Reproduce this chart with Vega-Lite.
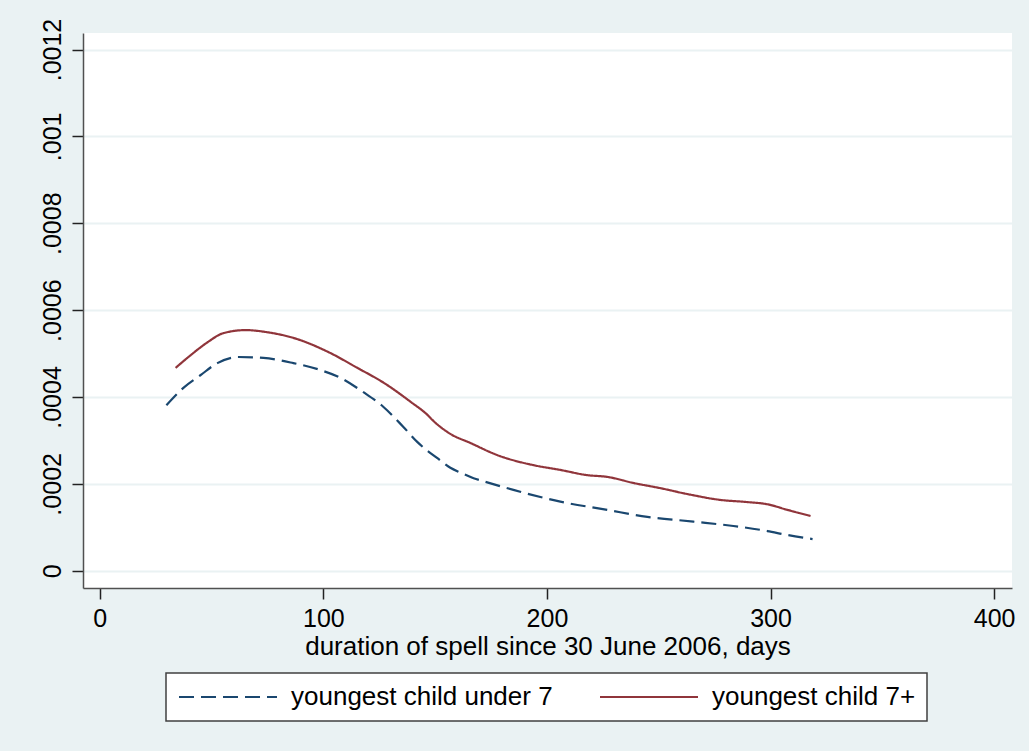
{
  "$schema": "https://vega.github.io/schema/vega-lite/v6.json",
  "autosize": {"type": "none"},
  "width": 929,
  "height": 555,
  "padding": {"left": 83, "top": 33, "right": 17, "bottom": 163},
  "background": "#EAF2F3",
  "config": {
    "font": "Liberation Sans",
    "view": {"fill": "white", "stroke": null},
    "axis": {"labelFont": "Liberation Sans", "titleFont": "Liberation Sans", "labelColor": "black", "titleColor": "black", "titleFontWeight": "normal"}
  },
  "data": {
    "values": [
      {"days": 29.8, "hazard": 0.000381, "group": "youngest child under 7"},
      {"days": 37.4, "hazard": 0.000421, "group": "youngest child under 7"},
      {"days": 45.0, "hazard": 0.000450, "group": "youngest child under 7"},
      {"days": 52.6, "hazard": 0.000478, "group": "youngest child under 7"},
      {"days": 62.0, "hazard": 0.000492, "group": "youngest child under 7"},
      {"days": 73.2, "hazard": 0.000490, "group": "youngest child under 7"},
      {"days": 86.6, "hazard": 0.000478, "group": "youngest child under 7"},
      {"days": 98.7, "hazard": 0.000462, "group": "youngest child under 7"},
      {"days": 107.7, "hazard": 0.000444, "group": "youngest child under 7"},
      {"days": 117.9, "hazard": 0.000411, "group": "youngest child under 7"},
      {"days": 126.9, "hazard": 0.000377, "group": "youngest child under 7"},
      {"days": 135.8, "hazard": 0.000331, "group": "youngest child under 7"},
      {"days": 142.1, "hazard": 0.000296, "group": "youngest child under 7"},
      {"days": 151.0, "hazard": 0.000259, "group": "youngest child under 7"},
      {"days": 156.8, "hazard": 0.000237, "group": "youngest child under 7"},
      {"days": 161.3, "hazard": 0.000226, "group": "youngest child under 7"},
      {"days": 167.2, "hazard": 0.000213, "group": "youngest child under 7"},
      {"days": 171.6, "hazard": 0.000206, "group": "youngest child under 7"},
      {"days": 185.0, "hazard": 0.000186, "group": "youngest child under 7"},
      {"days": 206.0, "hazard": 0.000159, "group": "youngest child under 7"},
      {"days": 227.0, "hazard": 0.000140, "group": "youngest child under 7"},
      {"days": 244.9, "hazard": 0.000124, "group": "youngest child under 7"},
      {"days": 265.5, "hazard": 0.000113, "group": "youngest child under 7"},
      {"days": 283.4, "hazard": 0.000103, "group": "youngest child under 7"},
      {"days": 298.6, "hazard": 0.0000913, "group": "youngest child under 7"},
      {"days": 307.6, "hazard": 0.0000821, "group": "youngest child under 7"},
      {"days": 318.8, "hazard": 0.0000729, "group": "youngest child under 7"},
      {"days": 33.9, "hazard": 0.000467, "group": "youngest child 7+"},
      {"days": 40.6, "hazard": 0.000496, "group": "youngest child 7+"},
      {"days": 48.2, "hazard": 0.000526, "group": "youngest child 7+"},
      {"days": 55.3, "hazard": 0.000547, "group": "youngest child 7+"},
      {"days": 65.2, "hazard": 0.000554, "group": "youngest child 7+"},
      {"days": 75.0, "hazard": 0.000549, "group": "youngest child 7+"},
      {"days": 86.6, "hazard": 0.000536, "group": "youngest child 7+"},
      {"days": 103.2, "hazard": 0.000501, "group": "youngest child 7+"},
      {"days": 115.2, "hazard": 0.000467, "group": "youngest child 7+"},
      {"days": 126.9, "hazard": 0.000433, "group": "youngest child 7+"},
      {"days": 139.0, "hazard": 0.000389, "group": "youngest child 7+"},
      {"days": 146.5, "hazard": 0.000359, "group": "youngest child 7+"},
      {"days": 149.2, "hazard": 0.000345, "group": "youngest child 7+"},
      {"days": 156.8, "hazard": 0.000315, "group": "youngest child 7+"},
      {"days": 165.8, "hazard": 0.000294, "group": "youngest child 7+"},
      {"days": 177.9, "hazard": 0.000266, "group": "youngest child 7+"},
      {"days": 194.0, "hazard": 0.000243, "group": "youngest child 7+"},
      {"days": 206.0, "hazard": 0.000232, "group": "youngest child 7+"},
      {"days": 218.1, "hazard": 0.000220, "group": "youngest child 7+"},
      {"days": 227.0, "hazard": 0.000216, "group": "youngest child 7+"},
      {"days": 238.7, "hazard": 0.000202, "group": "youngest child 7+"},
      {"days": 250.8, "hazard": 0.000190, "group": "youngest child 7+"},
      {"days": 264.2, "hazard": 0.000175, "group": "youngest child 7+"},
      {"days": 277.6, "hazard": 0.000163, "group": "youngest child 7+"},
      {"days": 289.7, "hazard": 0.000158, "group": "youngest child 7+"},
      {"days": 298.6, "hazard": 0.000153, "group": "youngest child 7+"},
      {"days": 307.6, "hazard": 0.000140, "group": "youngest child 7+"},
      {"days": 317.9, "hazard": 0.000126, "group": "youngest child 7+"}
    ]
  },
  "mark": {"type": "line", "strokeWidth": 2.2, "interpolate": "monotone"},
  "encoding": {
    "x": {
      "field": "days", "type": "quantitative",
      "scale": {"domain": [-7.5, 408], "nice": false, "zero": false},
      "axis": {
        "values": [0, 100, 200, 300, 400],
        "grid": false,
        "title": "duration of spell since 30 June 2006, days",
        "titleFontSize": 26,
        "titlePadding": 2,
        "labelFontSize": 25,
        "labelPadding": 7,
        "tickSize": 11,
        "tickWidth": 1.5,
        "tickColor": "#222222",
        "domainColor": "#505050",
        "domainWidth": 1.5,
        "labelFlush": false
      }
    },
    "y": {
      "field": "hazard", "type": "quantitative",
      "scale": {"domain": [-0.0000398, 0.001238], "nice": false, "zero": false},
      "axis": {
        "values": [0, 0.0002, 0.0004, 0.0006, 0.0008, 0.001, 0.0012],
        "labelExpr": "datum.value == 0 ? '0' : substring(format(datum.value, '.4~f'), 1)",
        "title": null,
        "grid": true,
        "gridColor": "#EAF2F3",
        "gridWidth": 2,
        "labelAngle": 270,
        "labelAlign": "center",
        "labelBaseline": "alphabetic",
        "labelFontSize": 25,
        "labelPadding": 12,
        "tickSize": 11,
        "tickWidth": 1.5,
        "tickColor": "#222222",
        "domainColor": "#505050",
        "domainWidth": 1.5,
        "labelFlush": false
      }
    },
    "color": {
      "field": "group", "type": "nominal",
      "scale": {"domain": ["youngest child under 7", "youngest child 7+"], "range": ["#1A476F", "#90353B"]},
      "legend": {
        "title": null,
        "orient": "none",
        "legendX": 83,
        "legendY": 640,
        "direction": "horizontal",
        "columns": 2,
        "columnPadding": 42,
        "padding": 11,
        "fillColor": "white",
        "strokeColor": "#404040",
        "symbolType": "M-2.2,0H17.4",
        "symbolSize": 100,
        "symbolStrokeWidth": 2.2,
        "labelFontSize": 26,
        "labelFont": "Liberation Sans",
        "labelColor": "black",
        "labelOffset": 88,
        "labelLimit": 500,
        "encode": {"legend": {"update": {"strokeWidth": {"value": 1.5}}}}
      }
    },
    "strokeDash": {
      "field": "group", "type": "nominal",
      "scale": {"domain": ["youngest child under 7", "youngest child 7+"], "range": [[15, 7], [1, 0]]},
      "legend": {
        "title": null,
        "orient": "none",
        "legendX": 83,
        "legendY": 640,
        "direction": "horizontal",
        "columns": 2,
        "columnPadding": 42,
        "padding": 11,
        "fillColor": "white",
        "strokeColor": "#404040",
        "symbolType": "M-2.2,0H17.4",
        "symbolSize": 100,
        "symbolStrokeWidth": 2.2,
        "labelFontSize": 26,
        "labelFont": "Liberation Sans",
        "labelColor": "black",
        "labelOffset": 88,
        "labelLimit": 500,
        "encode": {"legend": {"update": {"strokeWidth": {"value": 1.5}}}}
      }
    }
  }
}
